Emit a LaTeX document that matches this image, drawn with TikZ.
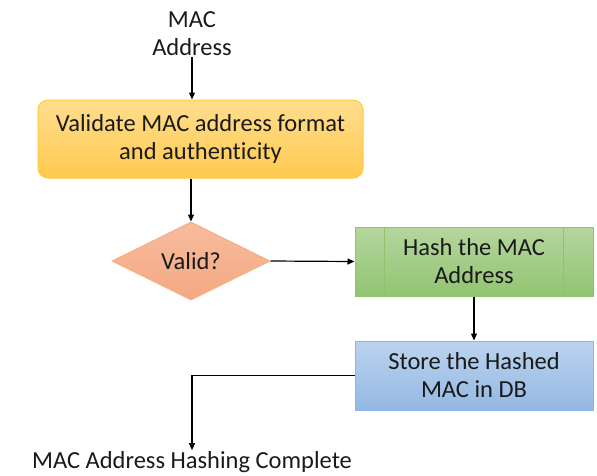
\documentclass[tikz,border=0pt]{standalone}
\usepackage{fontspec}
\setmainfont{Carlito}[Ligatures={NoCommon}]
\usetikzlibrary{shapes.geometric,calc,arrows.meta}
\definecolor{ytop}{HTML}{FFDE8F}
\definecolor{ybot}{HTML}{FFC94E}
\definecolor{yline}{HTML}{FFC83D}
\definecolor{dtop}{HTML}{F7BC9E}
\definecolor{dbot}{HTML}{F4A882}
\definecolor{dline}{HTML}{F4B183}
\definecolor{gtop}{HTML}{B4D69E}
\definecolor{gbot}{HTML}{92C472}
\definecolor{gline}{HTML}{8FC46D}
\definecolor{btop}{HTML}{BCD3EE}
\definecolor{bbot}{HTML}{93B8E4}
\definecolor{bline}{HTML}{8EB4E3}
\definecolor{txt}{HTML}{1A1A1A}
\begin{document}
\begin{tikzpicture}[x=1pt,y=-1pt,
  every node/.style={font=\fontsize{24.5}{28}\selectfont, text=txt, align=center},
  ybox/.style={draw=yline, line width=1pt, rounded corners=10pt, top color=ytop, bottom color=ybot, inner sep=0pt},
  dbox/.style={diamond, draw=dline, line width=1pt, top color=dtop, bottom color=dbot, inner sep=0pt, minimum width=158pt, minimum height=78pt},
  gbox/.style={draw=gline, line width=1pt, top color=gtop, bottom color=gbot, inner sep=0pt},
  bbox/.style={draw=bline, line width=1pt, top color=btop, bottom color=bbot, inner sep=0pt},
  plain/.style={inner sep=1pt},
  arr/.style={-{Triangle[length=7pt,width=6pt]}, line width=1.2pt, draw=black}]
\useasboundingbox (0,0) rectangle (597,475);
\node[plain] (in) at (192,34) {MAC\\Address};
\node[ybox, minimum width=325pt, minimum height=78pt] (val) at (200.5,139) {Validate MAC address format\\and authenticity};
\node[dbox] (dec) at (191,261) {Valid?};
\node[gbox, minimum width=238pt, minimum height=69pt] (hash) at (474,261.5) {Hash the MAC\\Address};
\draw[gline, line width=1pt] ($(hash.north west)+(30,0)$) -- ($(hash.south west)+(30,0)$);
\draw[gline, line width=1pt] ($(hash.north east)+(-30,0)$) -- ($(hash.south east)+(-30,0)$);
\node[bbox, minimum width=238pt, minimum height=69pt] (store) at (474,375.5) {Store the Hashed\\MAC in DB};
\node[plain] (out) at (192,462) {MAC Address Hashing Complete};
\draw[arr] (in.south) -- (val.north -| in.south);
\draw[arr] (val.south -| dec.north) -- (dec.north);
\draw[arr] (dec.east) -- (hash.west);
\draw[arr] (hash.south) -- (store.north);
\draw[arr] (store.west) -| (out.north);
\end{tikzpicture}
\end{document}
